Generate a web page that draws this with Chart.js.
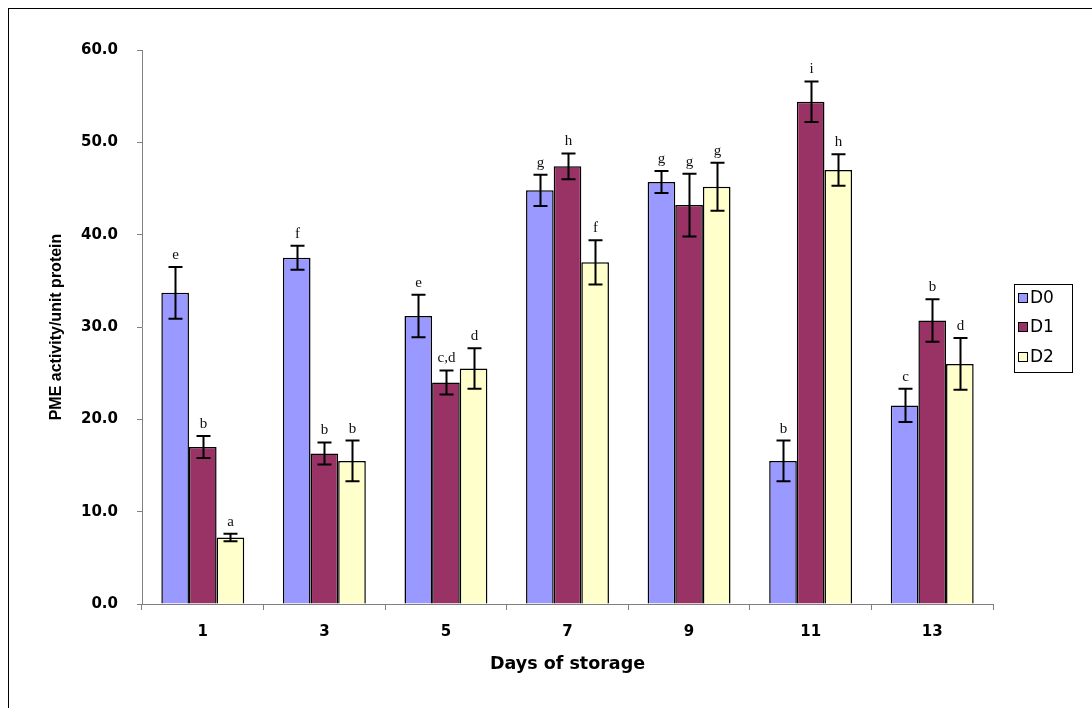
<!DOCTYPE html>
<html><head><meta charset="utf-8">
<script src="https://cdn.jsdelivr.net/npm/chart.js@4/dist/chart.umd.min.js"></script>
<style>html,body{margin:0;padding:0;background:#fff;overflow:hidden}#wrap{width:1092px;height:708px;position:relative}</style>
</head><body><div id="wrap"><canvas id="c" width="1092" height="708"></canvas></div>
<script>
const days = ['1','3','5','7','9','11','13'];
const seriesNames = ['D0','D1','D2'];
const d0 = [33.7, 37.5, 31.2, 44.8, 45.7, 15.5, 21.5];
const d1 = [17.0, 16.3, 24.0, 47.4, 43.2, 54.4, 30.7];
const d2 = [7.2, 15.5, 25.5, 37.0, 45.2, 47.0, 26.0];
const d0Err = [2.8, 1.3, 2.3, 1.7, 1.2, 2.2, 1.8];
const d1Err = [1.2, 1.2, 1.3, 1.4, 3.4, 2.2, 2.3];
const d2Err = [0.4, 2.2, 2.2, 2.4, 2.6, 1.7, 2.8];
const d0Letters = ['e','f','e','g','g','b','c'];
const d1Letters = ['b','b','c,d','h','g','i','b'];
const d2Letters = ['a','b','d','f','g','h','d'];
const yTicks = [0, 10, 20, 30, 40, 50, 60];

const colors = ['#9999FF', '#993366', '#FFFFCC'];
const values = [d0, d1, d2];
const errs = [d0Err, d1Err, d2Err];
const letters = [d0Letters, d1Letters, d2Letters];

const extras = {
  id: 'extras',
  afterDatasetsDraw(chart) {
    const ctx = chart.ctx;
    const ys = chart.scales.y;
    ctx.save();
    chart.data.datasets.forEach((ds, i) => {
      const meta = chart.getDatasetMeta(i);
      meta.data.forEach((bar, j) => {
        const v = ds.data[j], e = errs[i][j];
        const yt = ys.getPixelForValue(v + e), yb = ys.getPixelForValue(v - e);
        const x = Math.round(bar.x) + 0.5;
        ctx.strokeStyle = '#000'; ctx.lineWidth = 2;
        ctx.beginPath();
        ctx.moveTo(x, yt); ctx.lineTo(x, yb);
        ctx.moveTo(x - 7, yt); ctx.lineTo(x + 7, yt);
        ctx.moveTo(x - 7, yb); ctx.lineTo(x + 7, yb);
        ctx.stroke();
        ctx.fillStyle = '#111';
        ctx.font = '15px "Liberation Serif"';
        ctx.textAlign = 'center'; ctx.textBaseline = 'middle';
        ctx.fillText(letters[i][j], x, yt - 12);
      });
    });
    ctx.restore();
  },
  afterDraw(chart) {
    const ctx = chart.ctx;
    ctx.save();
    ctx.strokeStyle = '#000'; ctx.lineWidth = 1;
    ctx.strokeRect(8.5, 8.5, 1300, 1300);
    ctx.strokeRect(1014.5, 284.5, 58, 88);
    const cy = [298, 327, 357];
    chart.data.datasets.forEach((ds, i) => {
      ctx.fillStyle = ds.backgroundColor;
      ctx.fillRect(1018, cy[i] - 5, 10, 10);
      ctx.strokeRect(1018.5, cy[i] - 4.5, 9, 9);
      ctx.fillStyle = '#000';
      ctx.font = '17px "DejaVu Sans"';
      ctx.textAlign = 'left'; ctx.textBaseline = 'middle';
      ctx.fillText(ds.label, 1030, cy[i] + 1);
    });
    ctx.restore();
  }
};

new Chart(document.getElementById('c'), {
  type: 'bar',
  data: {
    labels: days,
    datasets: seriesNames.map((n, i) => ({
      label: n, data: values[i], backgroundColor: colors[i],
      borderColor: '#000', borderWidth: 1.5
    }))
  },
  options: {
    responsive: false, animation: false, devicePixelRatio: 1,
    layout: { padding: { left: 0, right: 99, top: 50, bottom: 0 } },
    plugins: { legend: { display: false }, tooltip: { enabled: false } },
    datasets: { bar: { categoryPercentage: 0.682, barPercentage: 1 } },
    scales: {
      x: {
        grid: { offset: true, drawOnChartArea: false, drawTicks: true, tickLength: 6, color: '#808080', lineWidth: 1 },
        border: { display: true, color: '#808080', width: 1 },
        ticks: { font: { family: 'DejaVu Sans', size: 15, weight: 'bold' }, color: '#000', padding: 13, maxRotation: 0 },
        title: { display: true, text: 'Days of storage', color: '#000',
          font: { family: 'DejaVu Sans', size: 17.5, weight: 'bold' }, padding: { top: 0, bottom: 33 } },
        afterFit: s => { s.height = 104; }
      },
      y: {
        min: 0, max: 60,
        afterBuildTicks: s => { s.ticks = yTicks.map(v => ({ value: v })); },
        grid: { drawOnChartArea: false, drawTicks: true, tickLength: 5, color: '#808080', lineWidth: 1 },
        border: { display: true, color: '#808080', width: 1 },
        ticks: { callback: v => Number(v).toFixed(1), font: { family: 'DejaVu Sans', size: 15, weight: 'bold' }, color: '#000', padding: 19 },
        title: { display: true, text: 'PME activity/unit protein', color: '#000',
          font: { family: 'Liberation Sans', size: 16, weight: 'bold' }, padding: { top: 47, bottom: 0 } },
        afterFit: s => { s.width = 142; }
      }
    }
  },
  plugins: [extras]
});
</script></body></html>
